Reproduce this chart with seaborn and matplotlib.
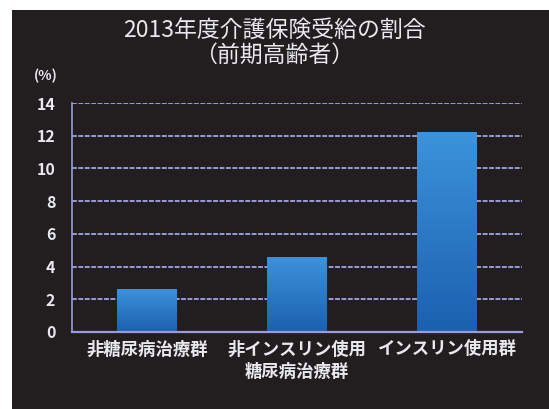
import matplotlib
matplotlib.use("Agg")
import matplotlib.pyplot as plt
import seaborn as sns
import numpy as np
import pandas as pd
from matplotlib.patches import Rectangle

categories = ["非糖尿病治療群", "非インスリン使用\n糖尿病治療群", "インスリン使用群"]
values = [2.6, 4.6, 12.2]
yticks = [0, 2, 4, 6, 8, 10, 12, 14]
title = "2013年度介護保険受給の割合\n（前期高齢者）"
unit = "(%)"

sns.set_theme(style="dark")
plt.rcParams['font.family'] = ['Noto Sans CJK JP', 'DejaVu Sans']

BG = "#221e1f"
GRID = "#9a9ad8"
TXT = "#e8e8ee"

fig = plt.figure(figsize=(5.49, 4.09), dpi=100, facecolor="white")
fig.patches.append(Rectangle((12/549, 0), 1, 1 - 10/409, transform=fig.transFigure,
                             facecolor=BG, edgecolor="none", zorder=-10))
ax = fig.add_axes([72/549, 1 - 332/409, 450/549, 229/409])
ax.set_facecolor("none")

df = pd.DataFrame({"cat": categories, "val": values})
sns.barplot(data=df, x="cat", y="val", ax=ax, color="#2a7fd0", width=0.4,
            saturation=1, zorder=3, edgecolor="none", linewidth=0)

ax.set_ylim(0, 14)
ax.set_xlim(-0.5, 2.5)
ax.set_yticks(yticks)
ax.set_yticklabels([str(v) for v in yticks], color=TXT, fontsize=11.5, fontweight="bold")
ax.tick_params(axis="y", length=0, pad=12)
ax.tick_params(axis="x", length=0, pad=6)
for lab in ax.get_xticklabels():
    lab.set_color(TXT)
    lab.set_fontsize(12.5)
    lab.set_fontweight("bold")
    lab.set_linespacing(1.3)
ax.set_xlabel("")
ax.set_ylabel("")

ax.grid(False)
for y in yticks[1:]:
    ax.axhline(y, color=GRID, lw=1.4, ls=(0, (2.5, 0.8)), zorder=1)
for s in ["top", "right"]:
    ax.spines[s].set_visible(False)
ax.spines["left"].set_color(GRID)
ax.spines["left"].set_linewidth(1.2)
ax.spines["bottom"].set_color(GRID)
ax.spines["bottom"].set_linewidth(1.6)
ax.spines["bottom"].set_zorder(4)

# gradient fill on bars
grad = np.linspace(0, 1, 256).reshape(-1, 1)
cmap = matplotlib.colors.LinearSegmentedColormap.from_list("g", ["#1b60b0", "#3c93dc"])
for p in list(ax.patches):
    x0, w, h = p.get_x(), p.get_width(), p.get_height()
    im = ax.imshow(grad, extent=(x0, x0 + w, 0, h), origin="lower", cmap=cmap,
                   aspect="auto", zorder=3)
    im.set_clip_path(p)
ax.set_xlim(-0.5, 2.5)
ax.set_ylim(0, 14)

fig.text(0.5, 1 - 43/409, title, ha="center", va="center", color=TXT,
         fontsize=16.5, linespacing=1.05)
fig.text(46/549, 1 - 76/409, unit, ha="center", va="center", color=TXT,
         fontsize=10, fontweight="bold")

fig.savefig("out.png", dpi=100, facecolor=fig.get_facecolor())
